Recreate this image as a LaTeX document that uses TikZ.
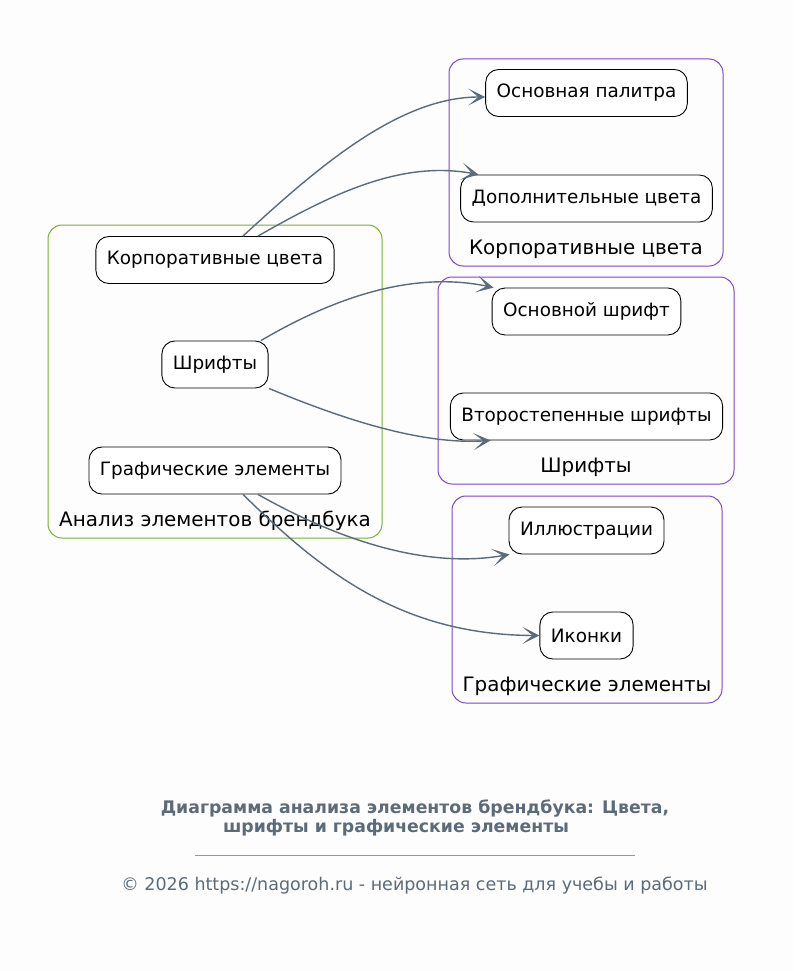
\documentclass[tikz,border=0pt]{standalone}
\usepackage{fontspec}
\setmainfont{DejaVu Sans}
\usetikzlibrary{arrows.meta}
\definecolor{bg}{RGB}{253,253,253}
\definecolor{cgreen}{RGB}{122,176,48}
\definecolor{cpurple}{RGB}{126,70,206}
\definecolor{cedge}{RGB}{92,107,122}
\definecolor{cfoot}{RGB}{92,107,122}
\begin{document}
\begin{tikzpicture}[x=1pt,y=-1pt,
  box/.style={draw=black,line width=0.9pt,rounded corners=13pt,fill=white,
    minimum height=47pt,inner xsep=11pt,font=\fontsize{18.4}{22}\selectfont},
  clusterg/.style={draw=cgreen,line width=1pt,rounded corners=14pt},
  clusterp/.style={draw=cpurple,line width=1pt,rounded corners=14pt},
  clabel/.style={font=\fontsize{19.9}{24}\selectfont,inner sep=0pt},
  edge/.style={draw=cedge,line width=1.4pt,-{Stealth[length=17pt,width=17pt,inset=10pt]}},
  foot/.style={text=cfoot,inner sep=0pt}]
\fill[bg] (0,0) rectangle (793,971);
\useasboundingbox (0,0) rectangle (793,971);
% clusters
\draw[clusterg] (48,225) rectangle (382,538);
\node[clabel] (lmain) at (215,521) {Анализ элементов брендбука};
\draw[clusterp] (449,59) rectangle (723,266);
\node[clabel] (l1) at (586,249) {Корпоративные цвета};
\draw[clusterp] (438,277) rectangle (734,484);
\node[clabel] (l2) at (586,467) {Шрифты};
\draw[clusterp] (452,496) rectangle (722,703);
\node[clabel] (l3) at (587,686) {Графические элементы};
% nodes
\node[box] (kc) at (215,260) {Корпоративные цвета};
\node[box] (sh) at (215,364.5) {Шрифты};
\node[box] (ge) at (215,470.5) {Графические элементы};
\node[box] (op) at (586.5,93) {Основная палитра};
\node[box] (dc) at (586.5,198.5) {Дополнительные цвета};
\node[box] (os) at (586.5,311.5) {Основной шрифт};
\node[box] (vs) at (586.5,416.5) {Второстепенные шрифты};
\node[box] (il) at (586.5,530.5) {Иллюстрации};
\node[box] (ik) at (586.5,635.5) {Иконки};
% edges
\draw[edge] ([xshift=28pt]kc.north) .. controls (320,165) and (400,97) .. ([yshift=-4pt]op.west);
\draw[edge] ([xshift=43pt]kc.north) .. controls (330,195) and (400,160) .. ([xshift=-108pt]dc.north);
\draw[edge] ([xshift=46pt]sh.north) .. controls (330,300) and (410,270) .. ([xshift=-93pt]os.north);
\draw[edge] ([xshift=54pt]sh.south) .. controls (340,418) and (420,445) .. ([xshift=-96pt]vs.south);
\draw[edge] ([xshift=43pt]ge.south) .. controls (330,535) and (420,570) .. ([xshift=-77pt]il.south);
\draw[edge] ([xshift=28pt]ge.south) .. controls (320,570) and (400,635) .. (ik.west);
% footer
\node[foot,font=\fontsize{17.3}{21}\selectfont\bfseries] (t1) at (415,809) {Диаграмма анализа элементов брендбука: Цвета,};
\node[foot,font=\fontsize{17.3}{21}\selectfont\bfseries] (t2) at (396,828) {шрифты и графические элементы};
\draw[draw=cfoot!70,line width=0.8pt] (195,855) -- (635,855);
\node[foot,font=\fontsize{17.5}{21}\selectfont] (cp) at (414.5,886) {© 2026 https://nagoroh.ru - нейронная сеть для учебы и работы};
\end{tikzpicture}
\end{document}
